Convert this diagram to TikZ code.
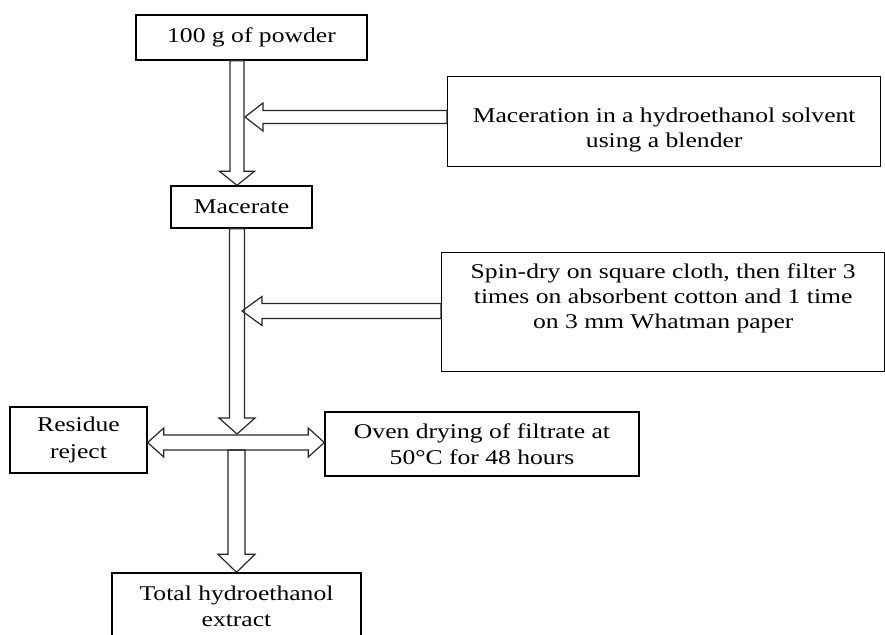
\documentclass[tikz,border=0pt]{standalone}
\usepackage{fontspec}
\setmainfont{Liberation Serif}[FakeStretch=1.22]
\usetikzlibrary{calc}

\tikzset{
  kasten/.style={draw, line width=1.4pt, inner sep=0pt, align=center,
    font=\fontsize{21}{25}\selectfont},
  hohlpfeil/.style={draw=black!85, line width=1.2pt, line join=miter}
}

% Hohlpfeil: #1 Start, #2 Spitze, #3 halbe Schaftbreite, #4 halbe Kopfbreite, #5 Kopflaenge
\newcommand{\blockpfeil}[5]{%
  \draw[hohlpfeil] ($#1!#3!90:#2$) -- ($#2!#5!#1!#3!-90:#1$) -- ($#2!#5!#1!#4!-90:#1$) -- #2
    -- ($#2!#5!#1!#4!90:#1$) -- ($#2!#5!#1!#3!90:#1$) -- ($#1!#3!-90:#2$) -- cycle;}

% Doppelpfeil: Spitzen an beiden Enden
\newcommand{\doppelpfeil}[5]{%
  \draw[hohlpfeil] #1 -- ($#1!#5!#2!#4!90:#2$) -- ($#1!#5!#2!#3!90:#2$)
    -- ($#2!#5!#1!#3!-90:#1$) -- ($#2!#5!#1!#4!-90:#1$) -- #2
    -- ($#2!#5!#1!#4!90:#1$) -- ($#2!#5!#1!#3!90:#1$)
    -- ($#1!#5!#2!#3!-90:#2$) -- ($#1!#5!#2!#4!-90:#2$) -- cycle;}

\begin{document}
\begin{tikzpicture}[x=1pt, y=-1pt]

    \clip (0,0) rectangle (885,634);

    % 1. Hilfskoordinaten (Achse und Pfeilspitzen)
    \coordinate (achse) at (237,0);
    \coordinate (spitze1) at (245,117);
    \coordinate (spitze2) at (242,311);
    \coordinate (quer) at (0,442.5);
    \coordinate (knoten) at (237,434);
    \coordinate (ablauf) at (236.5,450);

    % 2. Kaesten
    \node[kasten, minimum width=231pt, minimum height=45pt] (pulver) at (251.5,37.5) {100 g of powder};
    \node[kasten, anchor=north west, minimum width=433pt, text height=70.5pt, text depth=19.5pt] (mazeration) at (447,76)
        {Maceration in a hydroethanol solvent\\using a blender};
    \node[kasten, minimum width=141pt, minimum height=42pt] (mazerat) at (241.5,207) {Macerate};
    \node[kasten, anchor=north west, minimum width=443pt, text height=76pt, text depth=43pt] (filter) at (441,252)
        {Spin-dry on square cloth, then filter 3\\times on absorbent cotton and 1 time\\on 3 mm Whatman paper};
    \node[kasten, minimum width=137pt, minimum height=66pt] (rueckstand) at (78.5,440) {Residue\\[1.5pt]reject};
    \node[kasten, minimum width=314pt, minimum height=64pt] (ofen) at (482,444) {Oven drying of filtrate at\\[1.5pt]50°C for 48 hours};
    \node[kasten, minimum width=249pt, minimum height=67pt] (extrakt) at (236.5,606.5) {Total hydroethanol\\[1.5pt]extract};

    % 3. Hohlpfeile
    \blockpfeil{(pulver.south -| achse)}{(mazerat.north -| achse)}{7pt}{17.5pt}{14pt}
    \blockpfeil{(mazeration.west |- spitze1)}{(spitze1)}{6.5pt}{14pt}{18pt}
    \blockpfeil{(mazerat.south -| achse)}{(knoten)}{7.5pt}{18pt}{16pt}
    \blockpfeil{(filter.west |- spitze2)}{(spitze2)}{7.5pt}{14.5pt}{20pt}
    \doppelpfeil{(rueckstand.east |- quer)}{(ofen.west |- quer)}{7.5pt}{14.5pt}{16pt}
    \blockpfeil{(ablauf)}{(extrakt.north -| ablauf)}{8.5pt}{18.5pt}{18pt}

\end{tikzpicture}
\end{document}
